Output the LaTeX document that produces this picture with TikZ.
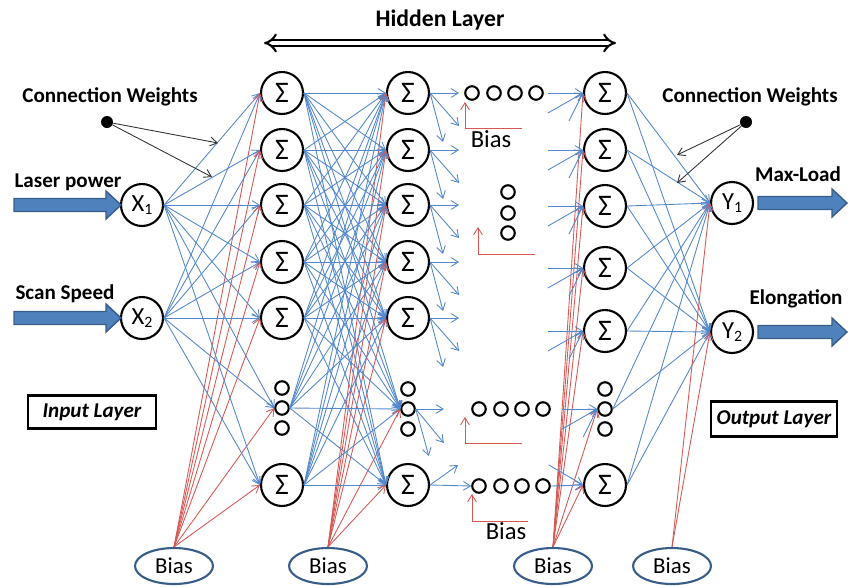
\documentclass[tikz,border=0pt]{standalone}
\usepackage{fontspec}
\setmainfont{Carlito}
\usetikzlibrary{arrows.meta,shapes.geometric}
\definecolor{linkblue}{RGB}{84,136,204}
\definecolor{linkred}{RGB}{214,88,84}
\definecolor{fatblue}{RGB}{79,129,189}
\definecolor{darkblue}{RGB}{56,93,138}
\def\fatarrow(#1,#2)(#3){\draw[fill=fatblue, draw=darkblue, line width=0.8pt] (#1,#2-6.5) -- (#3-15,#2-6.5) -- (#3-15,#2-14) -- (#3,#2) -- (#3-15,#2+14) -- (#3-15,#2+6.5) -- (#1,#2+6.5) -- cycle;}

\begin{document}
\begin{tikzpicture}[x=0.02cm, y=-0.02cm, font=\fontsize{12}{14}\selectfont,
		neuron/.style={circle, draw, line width=1.2pt, fill=white, minimum size=0.84cm, inner sep=0pt, font=\fontsize{14}{16}\selectfont},
		sumnode/.style={neuron, font=\fontsize{17}{19}\selectfont},
		smalldot/.style={circle, draw, line width=1.2pt, fill=white, minimum size=0.27cm, inner sep=0pt},
		link/.style={color=linkblue, line width=0.5pt, -{Straight Barb[length=4pt,width=5pt]}},
		biaslink/.style={color=linkred, line width=0.5pt, -{Straight Barb[length=4pt,width=5pt]}},
		weightarrow/.style={color=black!80, line width=0.5pt, -{Straight Barb[length=4pt,width=5pt]}},
		biasnode/.style={ellipse, draw=darkblue, line width=1.2pt, minimum width=1.56cm, minimum height=0.72cm, inner sep=0pt, font=\fontsize{13}{15}\selectfont},
		layerbox/.style={draw, line width=1.3pt, font=\fontsize{12}{14}\selectfont\bfseries\itshape, inner sep=0pt},
		heading/.style={font=\fontsize{12}{14}\selectfont\bfseries}]
			%%%%% START %%%%%
			
			\useasboundingbox (0,0) rectangle (854,586);
			
			\node[heading, font=\fontsize{13.5}{15}\selectfont\bfseries] (hidden) at (440,20) {Hidden Layer};
			\draw[double, double distance=2.4pt, line width=1.2pt, {Implies}-{Implies}] (264,43) -- (616,43);
			
			% inputs and outputs
			\node[neuron] (x1) at (142,205) {X\raisebox{-0.3ex}{\small 1}};
			\node[neuron] (x2) at (142,318) {X\raisebox{-0.3ex}{\small 2}};
			\node[neuron] (y1) at (732,203) {Y\raisebox{-0.3ex}{\small 1}};
			\node[neuron] (y2) at (732,332) {Y\raisebox{-0.3ex}{\small 2}};
			
			\fatarrow(14,205)(121)
			\fatarrow(14,318)(121)
			\fatarrow(758,203)(847)
			\fatarrow(758,332)(847)
			
			\node[heading] (laser) at (68,182) {Laser power};
			\node[heading] (scan) at (65,294) {Scan Speed};
			\node[heading] (maxload) at (798,174) {Max-Load};
			\node[heading] (elong) at (796,299) {Elongation};
			
			\node[layerbox, minimum width=2.56cm, minimum height=0.66cm] (inlayer) at (92,412) {Input Layer};
			\node[layerbox, minimum width=2.52cm, minimum height=0.70cm] (outlayer) at (774,419) {Output Layer};
			
			% hidden columns
			\foreach \n/\y in {1/93,2/150,3/205,4/262,5/318,7/485} {
				\node[sumnode] (a\n) at (282,\y) {Σ};
				\node[sumnode] (b\n) at (408,\y) {Σ};
			}
			\foreach \n/\y in {1/93,2/150,3/206,4/268,5/331,7/485}
				\node[sumnode] (c\n) at (605,\y) {Σ};
			
			\node[smalldot] (a6u) at (282,388) {};
			\node[smalldot] (a6) at (282,408) {};
			\node[smalldot] (a6d) at (282,428) {};
			\node[smalldot] (b6u) at (408,389) {};
			\node[smalldot] (b6) at (408,409) {};
			\node[smalldot] (b6d) at (408,429) {};
			\node[smalldot] (c6u) at (605,389) {};
			\node[smalldot] (c6) at (605,409) {};
			\node[smalldot] (c6d) at (605,429) {};
			
			% skipped units
			\foreach \n/\x in {1/472,2/494,3/515,4/536} {
				\node[smalldot] (sa\n) at (\x,93) {};
				\node[smalldot] (sb\n) at (\x+7,409) {};
				\node[smalldot] (sc\n) at (\x+7,486) {};
			}
			\foreach \n/\y in {1/192,2/213,3/233}
				\node[smalldot] (sv\n) at (508,\y) {};
			
			% bias
			\node[biasnode] (bias1) at (174,566) {Bias};
			\node[biasnode] (bias2) at (328,566) {Bias};
			\node[biasnode] (bias3) at (553,566) {Bias};
			\node[biasnode] (bias4) at (672,566) {Bias};
			
			% connections
			\foreach \j in {1,...,7} {
				\draw[link] (x1.east) -- (a\j.west);
				\draw[link] (x2.east) -- (a\j.west);
				\foreach \i in {1,...,7}
					\draw[link] (a\i.east) -- (b\j.west);
				\draw[link] (c\j.east) -- (y1.west);
				\draw[link] (c\j.east) -- (y2.west);
				\draw[biaslink] (bias1.north) -- (a\j.west);
				\draw[biaslink] (bias2.north) -- (b\j.west);
				\draw[biaslink] (bias3.north) -- (c\j.west);
			}
			\draw[biaslink] (bias4.north) -- (y1.west);
			\draw[biaslink] (bias4.north) -- (y2.west);
			
			\foreach \i in {1,...,5} {
				\draw[link] (b\i.east) -- ++(29,0);
				\draw[link] (b\i.east) -- ++(29,33);
				\draw[link] (b\i.east) -- ++(13,49);
			}
			\draw[link] (b6.east) -- ++(28,0);
			\draw[link] (b6.east) -- ++(28,34);
			\draw[link] (b6.east) -- ++(13,47);
			\draw[link] (b7.east) -- (sc1.west);
			\draw[link] (b7.east) -- ++(28,-20);
			
			\foreach \i in {1,...,6} {
				\draw[link] ([shift={(-35,0)}]c\i.west) -- (c\i.west);
				\draw[link] ([shift={(-35,20)}]c\i.west) -- (c\i.west);
				\draw[link] ([shift={(-14,28)}]c\i.west) -- (c\i.west);
			}
			\draw[link] (sc4.east) -- (c7.west);
			\draw[link] ([shift={(-34,-20)}]c7.west) -- (c7.west);
			
			% bias of the skipped units
			\coordinate (ra) at (522,128);
			\coordinate (ta) at (465,102);
			\coordinate (rv) at (535,254);
			\coordinate (tv) at (478,227);
			\coordinate (rb) at (522,443);
			\coordinate (tb) at (465,417);
			\coordinate (rc) at (528,521);
			\coordinate (tc) at (472,494);
			\draw[biaslink] (ra) -| (ta);
			\draw[biaslink] (rv) -| (tv);
			\draw[biaslink] (rb) -| (tb);
			\draw[biaslink] (rc) -| (tc);
			\node[font=\fontsize{14}{16}\selectfont] (biasa) at (491,139) {Bias};
			\node[font=\fontsize{14}{16}\selectfont] (biasc) at (506,531) {Bias};
			
			% connection weights
			\node[heading] (cwl) at (110,97) {Connection Weights};
			\node[circle, fill=black, minimum size=0.24cm, inner sep=0pt] (wl) at (107,122) {};
			\draw[weightarrow] (wl) -- ++(111,21);
			\draw[weightarrow] (wl) -- ++(105,55);
			\node[heading] (cwr) at (750,97) {Connection Weights};
			\node[circle, fill=black, minimum size=0.24cm, inner sep=0pt] (wr) at (746,122) {};
			\draw[weightarrow] (wr) -- ++(-69,33);
			\draw[weightarrow] (wr) -- ++(-69,61);
			
			%%%%% END %%%%%
		\end{tikzpicture}
\end{document}
